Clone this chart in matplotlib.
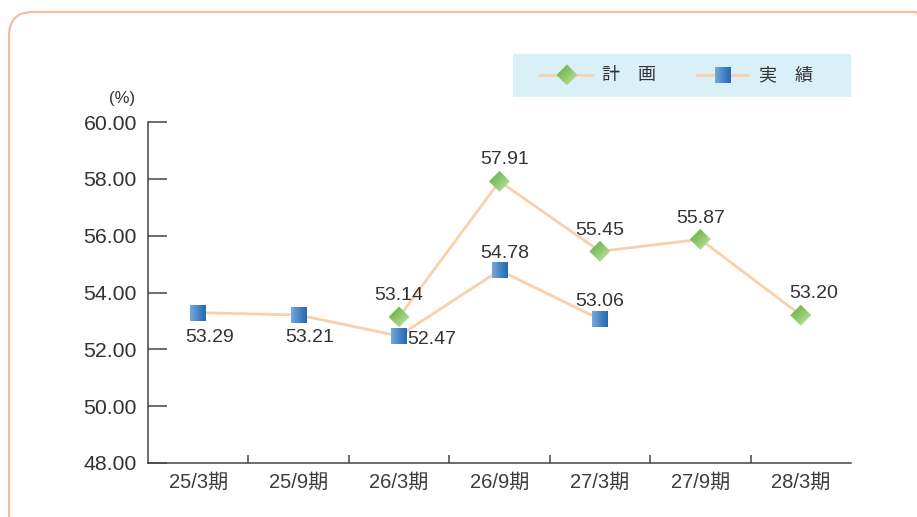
import matplotlib
matplotlib.use("Agg")
import matplotlib.pyplot as plt
from matplotlib.patches import FancyBboxPatch, Rectangle, Polygon
from matplotlib.colors import LinearSegmentedColormap
import numpy as np

plt.rcParams['font.family'] = ['Liberation Sans', 'Noto Sans CJK JP', 'DejaVu Sans']

categories = ["25/3期", "25/9期", "26/3期", "26/9期", "27/3期", "27/9期", "28/3期"]
plan_idx = [2, 3, 4, 5, 6]
plan_vals = [53.14, 57.91, 55.45, 55.87, 53.20]
actual_idx = [0, 1, 2, 3, 4]
actual_vals = [53.29, 53.21, 52.47, 54.78, 53.06]
yticks = [48, 50, 52, 54, 56, 58, 60]
legend_labels = ["計　画", "実　績"]

W, H = 917, 517
fig = plt.figure(figsize=(W / 100, H / 100), dpi=100)

# rounded frame
frame = FancyBboxPatch((0.09, -1.0), 9.3, 6.05,
                       boxstyle="round,pad=0,rounding_size=0.24",
                       transform=fig.dpi_scale_trans, fill=False,
                       edgecolor="#F8BA9C", linewidth=1.6, zorder=0)
fig.patches.append(frame)

ax = fig.add_axes([148 / W, 1 - 463 / H, (851 - 148) / W, (463 - 122) / H])
ax.set_facecolor("none")

line_col = "#FAD0AA"
txt_col = "#333333"
green_cmap = LinearSegmentedColormap.from_list("g", ["#CFE9BA", "#8FC96C", "#5EAE40"])
blue_cmap = LinearSegmentedColormap.from_list("b", ["#7AA9DB", "#4A86C6", "#246AAF"])

x_plan = np.array(plan_idx, dtype=float)
x_act = np.array(actual_idx, dtype=float)

ax.plot(x_plan, plan_vals, color=line_col, lw=2.0, zorder=2)
ax.plot(x_act, actual_vals, color=line_col, lw=2.0, zorder=2)

fs = 14
plan_off = [(0, 21), (5, 22), (0, 21), (0, 21), (13, 22)]
act_off = [(11, -25), (11, -23), (33, -4), (5, 17), (0, 18)]
for x, v, (dx, dy) in zip(x_plan, plan_vals, plan_off):
    ax.annotate(f"{v:.2f}", (x, v), xytext=(dx, dy), textcoords="offset pixels",
                ha="center", va="center", fontsize=fs, color=txt_col, zorder=4)
for x, v, (dx, dy) in zip(x_act, actual_vals, act_off):
    ax.annotate(f"{v:.2f}", (x, v), xytext=(dx, dy), textcoords="offset pixels",
                ha="center", va="center", fontsize=fs, color=txt_col, zorder=4)

ax.set_xlim(-0.5, len(categories) - 0.5)
ax.set_ylim(48, 60)
ax.set_yticks(yticks)
ax.set_yticklabels([f"{t:.2f}" for t in yticks], fontsize=15.3, color=txt_col)
ax.set_xticks(np.arange(len(categories)))
ax.set_xticklabels(categories, fontsize=14.5, color="#3c3c3c")
ax.set_xticks(np.arange(len(categories) - 1) + 0.5, minor=True)
ax.tick_params(axis="x", which="major", length=0, pad=7)
ax.tick_params(axis="x", which="minor", direction="in", length=6, width=1.1, color="#444444")
ax.tick_params(axis="y", direction="in", length=14, width=1.1, color="#444444", pad=8)

for s in ["top", "right"]:
    ax.spines[s].set_visible(False)
for s in ["left", "bottom"]:
    ax.spines[s].set_color("#444444")
    ax.spines[s].set_linewidth(1.1)

fig.text(122 / W, 1 - 98 / H, "(%)", fontsize=12, color=txt_col, ha="center", va="center")

# overlay axes in pixel coordinates for gradient markers and legend
ov = fig.add_axes([0, 0, 1, 1])
ov.set_xlim(0, W)
ov.set_ylim(0, H)
ov.axis("off")
ov.set_facecolor("none")

ov.add_patch(Rectangle((513, H - 97), 851 - 513, 97 - 54, facecolor="#DAF0F7",
                       edgecolor="none", zorder=1))

grad = np.linspace(0, 1, 64)
# value 1 (dark) at top-left, 0 (light) at bottom-right, image origin upper
diag = ((1 - grad[None, :]) + (1 - grad[:, None])) / 2.0
horiz = np.tile(grad, (64, 1))


def diamond(cx, cy, r=10.5):
    poly = Polygon([(cx - r, cy), (cx, cy + r), (cx + r, cy), (cx, cy - r)],
                   closed=True, facecolor="none", edgecolor="none", zorder=5)
    ov.add_patch(poly)
    im = ov.imshow(diag, cmap=green_cmap, extent=(cx - r, cx + r, cy - r, cy + r),
                   origin="upper", zorder=5, interpolation="bilinear", aspect="auto",
                   vmin=0, vmax=1)
    im.set_clip_path(poly)


def square(cx, cy, r=8.0):
    poly = Polygon([(cx - r, cy - r), (cx - r, cy + r), (cx + r, cy + r), (cx + r, cy - r)],
                   closed=True, facecolor="none", edgecolor="none", zorder=5)
    ov.add_patch(poly)
    im = ov.imshow(horiz, cmap=blue_cmap, extent=(cx - r, cx + r, cy - r, cy + r),
                   origin="upper", zorder=5, interpolation="bilinear", aspect="auto",
                   vmin=0, vmax=1)
    im.set_clip_path(poly)


to_pix = ax.transData + fig.transFigure.inverted()
for x, v in zip(x_plan, plan_vals):
    fx, fy = to_pix.transform((x, v))
    diamond(fx * W, fy * H)
for x, v in zip(x_act, actual_vals):
    fx, fy = to_pix.transform((x, v))
    square(fx * W, fy * H)

ly = H - 75
ov.plot([540, 592], [ly, ly], color=line_col, lw=2.0, zorder=2)
ov.plot([697, 748], [ly, ly], color=line_col, lw=2.0, zorder=2)
diamond(567, ly)
square(723, ly)
ov.text(602, ly, legend_labels[0], fontsize=13, color=txt_col, va="center", ha="left",
        family=['Noto Sans CJK JP'])
ov.text(759, ly, legend_labels[1], fontsize=13, color=txt_col, va="center", ha="left",
        family=['Noto Sans CJK JP'])
ov.set_xlim(0, W)
ov.set_ylim(0, H)

fig.savefig("out.png", dpi=100)
